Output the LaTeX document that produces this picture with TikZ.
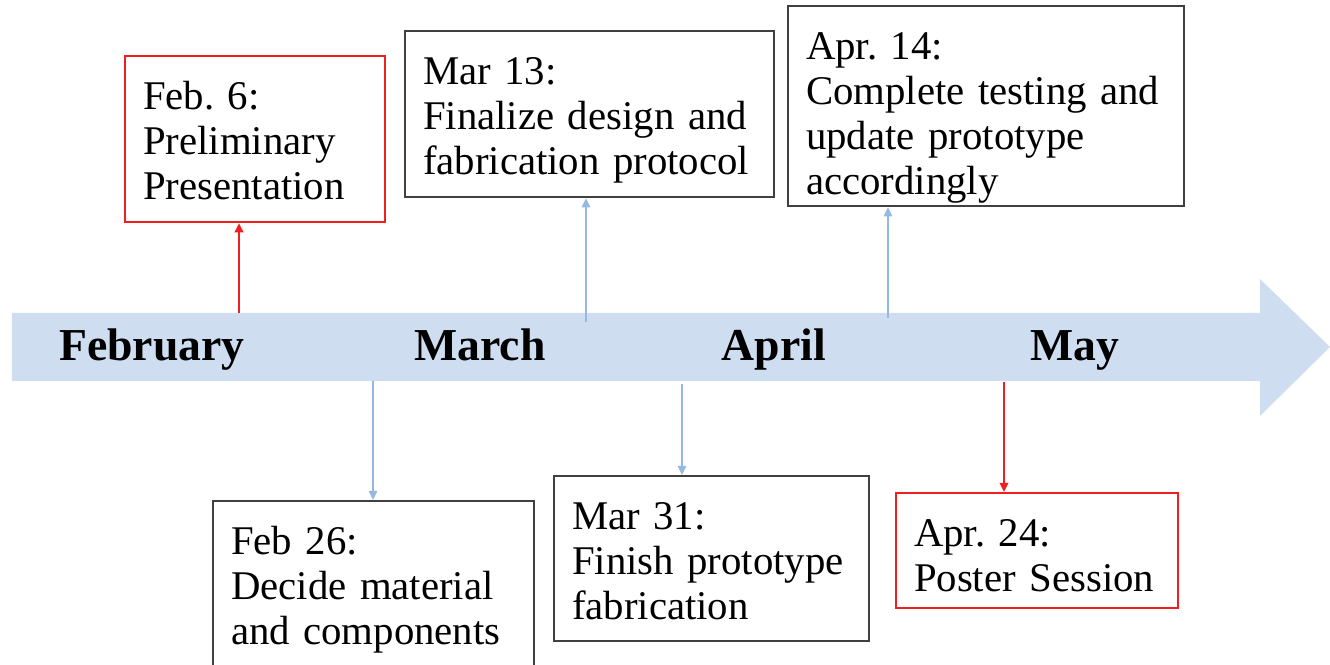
\documentclass[tikz,border=0pt]{standalone}
\usepackage{fontspec}
\setmainfont{Liberation Serif}
\usepackage{xcolor}
\usetikzlibrary{arrows.meta}
\frenchspacing

\definecolor{barblue}{RGB}{206,222,240}
\definecolor{lineblue}{RGB}{150,185,228}
\definecolor{boxred}{RGB}{240,30,30}
\definecolor{boxgray}{RGB}{64,64,64}

\begin{document}
\begin{tikzpicture}[
    event/.style={draw=boxgray, line width=0.6pt, anchor=north west, align=left,
        inner xsep=0.18cm, inner ysep=0pt, text height=15.1pt,
        font=\fontsize{11.6}{12.8}\selectfont},
    redevent/.style={event, draw=boxred},
    month/.style={anchor=base, font=\bfseries\fontsize{13}{15}\selectfont},
    bluelink/.style={-{Triangle[length=2.6pt,width=2.4pt]}, lineblue, line width=0.45pt},
    redlink/.style={-{Triangle[length=2.6pt,width=2.4pt]}, boxred, line width=0.6pt}
]
    \useasboundingbox (0,0) rectangle (13.3,6.65);

    % Timeline arrow
    \fill [barblue] (0.12,2.84) -- (12.6,2.84) -- (12.6,2.49) -- (13.3,3.18)
        -- (12.6,3.86) -- (12.6,3.52) -- (0.12,3.52) -- cycle;
    \node [month] (feb) at (1.52,3.04) {February};
    \node [month] (mar) at (4.80,3.04) {March};
    \node [month] (apr) at (7.74,3.04) {April};
    \node [month] (may) at (10.75,3.04) {May};

    % Milestones above
    \node [redevent, text width=2.24cm, text depth=1.13cm] (feb6) at (1.24,6.10)
        {Feb. 6:\\ Preliminary\\ Presentation};
    \node [event, text width=3.33cm, text depth=1.13cm] (mar13) at (4.04,6.35)
        {Mar 13:\\ Finalize design and\\ fabrication protocol};
    \node [event, text width=3.60cm, text depth=1.47cm] (apr14) at (7.87,6.60)
        {Apr. 14:\\ Complete testing and\\ update prototype\\ accordingly};

    % Milestones below
    \node [event, text width=2.85cm, text depth=1.19cm] (feb26) at (2.12,1.65)
        {Feb 26:\\ Decide material\\ and components};
    \node [event, text width=2.79cm, text depth=1.12cm] (mar31) at (5.53,1.90)
        {Mar 31:\\ Finish prototype\\ fabrication};
    \node [redevent, text width=2.46cm, text depth=0.62cm] (apr24) at (8.95,1.73)
        {Apr. 24:\\ Poster Session};

    % Links
    \coordinate (t1) at (2.39,3.52);
    \coordinate (t2) at (5.86,3.43);
    \coordinate (t3) at (8.88,3.47);
    \coordinate (b1) at (3.73,2.84);
    \coordinate (b2) at (6.82,2.81);
    \coordinate (b3) at (10.04,2.83);
    \draw [redlink] (t1) -- (t1 |- feb6.south);
    \draw [bluelink] (t2) -- (t2 |- mar13.south);
    \draw [bluelink] (t3) -- (t3 |- apr14.south);
    \draw [bluelink] (b1) -- (b1 |- feb26.north);
    \draw [bluelink] (b2) -- (b2 |- mar31.north);
    \draw [redlink] (b3) -- (b3 |- apr24.north);
\end{tikzpicture}
\end{document}
